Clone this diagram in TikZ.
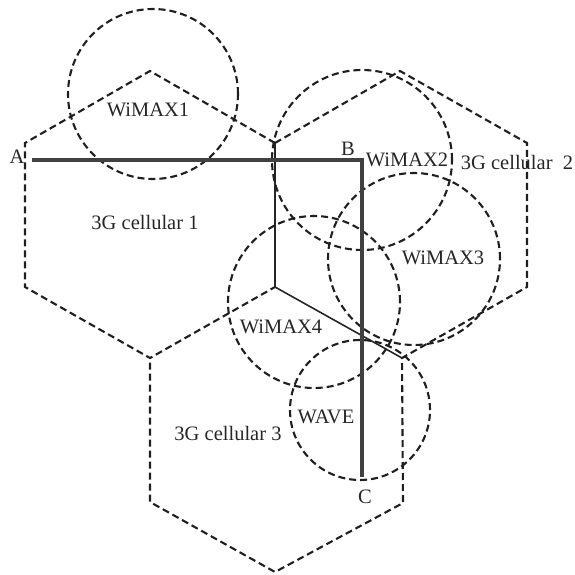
\documentclass[tikz,border=0pt]{standalone}
\usepackage{fontspec}
\setmainfont{Liberation Serif}
\begin{document}
\begin{tikzpicture}[x=1pt,y=-1pt,
  dsh/.style={line width=2.1pt, dash pattern=on 7pt off 4pt, color=black!88},
  thinsolid/.style={line width=1.6pt, color=black!85},
  route/.style={line width=3.5pt, color=black!75},
  lbl/.style={font=\fontsize{20.5}{23}\selectfont, text=black!85, inner sep=0pt}]
\useasboundingbox (0,0) rectangle (574,575);
% hexagon vertices
\coordinate (h1t) at (150,71);
\coordinate (h1ur) at (275,143);
\coordinate (h1lr) at (275,287);
\coordinate (h1b) at (150,358);
\coordinate (h1ll) at (25,287);
\coordinate (h1ul) at (25,143);
\coordinate (h2t) at (400,71);
\coordinate (h2ur) at (527,143);
\coordinate (h2lr) at (527,287);
\coordinate (h2b) at (402,358);
\coordinate (h3lr) at (403,503);
\coordinate (h3b) at (275,572);
\coordinate (h3ll) at (150,502);
% dashed hexagon outlines
\draw[dsh] (h1ur) -- (h1t) -- (h1ul) -- (h1ll) -- (h1b) -- (h1lr);
\draw[dsh] (h1ur) -- (h2t) -- (h2ur) -- (h2lr) -- (h2b) -- (h3lr) -- (h3b) -- (h3ll) -- (h1b);
% solid shared edges
\draw[thinsolid] (h1ur) -- (h1lr) -- (h2b);
% coverage circles
\node[draw, dsh, circle, minimum size=170pt] (w1) at (153,94) {};
\node[draw, dsh, circle, minimum size=180pt] (w2) at (362,160) {};
\node[draw, dsh, circle, minimum size=172pt] (w3) at (414,259) {};
\node[draw, dsh, circle, minimum size=172pt] (w4) at (314,302) {};
\node[draw, dsh, circle, minimum size=140pt] (wave) at (360,410) {};
% route
\coordinate (A) at (32,160);
\coordinate (B) at (362,160);
\coordinate (C) at (362,477);
\draw[route] (A) -- (B) -- (C);
% labels
\node[lbl] (la) at (17,157) {A};
\node[lbl] (lb) at (348,149) {B};
\node[lbl] (lc) at (365,497) {C};
\node[lbl] (t1) at (148,110) {WiMAX1};
\node[lbl] (t2) at (407,160) {WiMAX2};
\node[lbl] (t3) at (443,258) {WiMAX3};
\node[lbl] (t4) at (281,327) {WiMAX4};
\node[lbl] (t5) at (326,417) {WAVE};
\node[lbl] (c1) at (145,222) {3G cellular 1};
\node[lbl] (c2) at (517,162) {3G cellular\ \ 2};
\node[lbl] (c3) at (228,433) {3G cellular 3};
\end{tikzpicture}
\end{document}
